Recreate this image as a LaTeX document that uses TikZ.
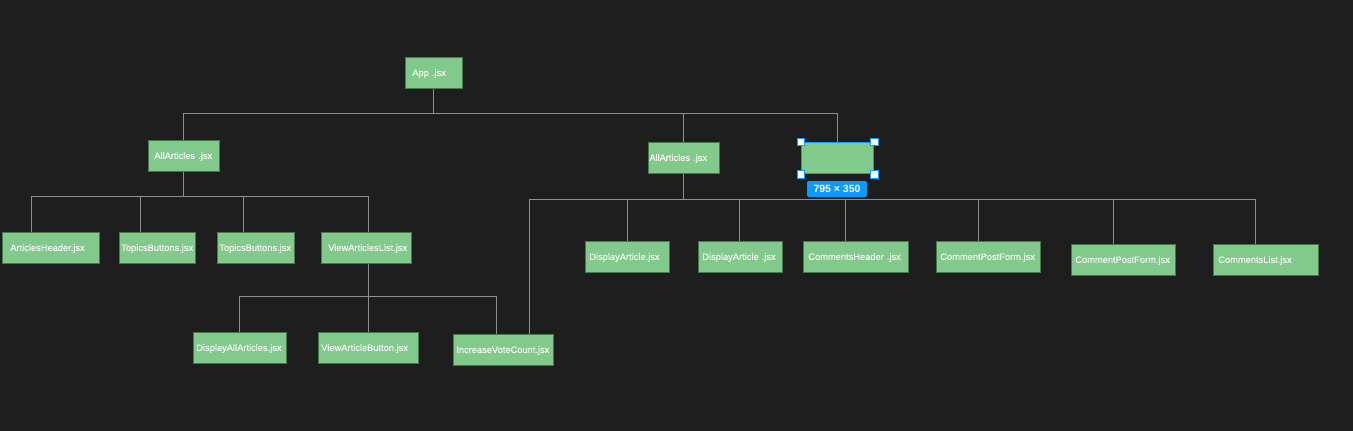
\documentclass[tikz,border=0pt]{standalone}
\usepackage{fontspec}
\setmainfont{Liberation Sans}
\newfontfamily\boxfont[FakeBold=0.35]{Liberation Sans}
\definecolor{bg}{HTML}{1E1E1E}
\definecolor{boxgreen}{HTML}{82CA8B}
\definecolor{boxedge}{HTML}{46794C}
\definecolor{wiregray}{HTML}{8E8E8E}
\definecolor{figblue}{HTML}{0D99FF}
\begin{document}
\begin{tikzpicture}[x=1pt,y=-1pt,
  wire/.style={draw=wiregray,line width=0.9pt},
  bx/.style 2 args={draw=boxedge,line width=0.6pt,fill=boxgreen,anchor=north west,
    align=left,minimum height=31pt,inner ysep=0pt,inner xsep=#1,text width=#2,
    text=white!96!black,font=\boxfont\fontsize{9.3}{11}\selectfont,text depth=0.5pt},
  handle/.style={draw=figblue,fill=white,line width=0.9pt,minimum size=7.5pt,inner sep=0pt}]
\fill[bg] (0,0) rectangle (1353,431);
\useasboundingbox (0,0) rectangle (1353,431);
% nodes
\node[bx={7pt}{43pt}] (app) at (405,57) {App .jsx};
\node[bx={6pt}{59pt}] (aaL) at (148,140) {AllArticles .jsx};
\node[bx={8pt}{81pt}] (ah) at (2,232) {ArticlesHeader.jsx};
\node[bx={2pt}{72pt}] (tb1) at (119,232) {TopicsButtons.jsx};
\node[bx={2pt}{73pt}] (tb2) at (217,232) {TopicsButtons.jsx};
\node[bx={7pt}{76pt}] (val) at (321,232) {ViewArticlesList.jsx};
\node[bx={3pt}{87pt}] (daa) at (193,332) {DisplayAllArticles.jsx};
\node[bx={3pt}{94pt}] (vab) at (318,332) {ViewArticleButton.jsx};
\node[bx={3pt}{94pt}] (ivc) at (453,334) {IncreaseVoteCount.jsx};
\node[bx={1pt}{69pt}] (aaR) at (648,142) {AllArticles .jsx};
\node[bx={0pt}{72pt},draw=figblue,line width=1.4pt] (sel) at (801,142) {};
\node[bx={4pt}{76pt}] (da1) at (585,241) {DisplayArticle.jsx};
\node[bx={4pt}{76pt}] (da2) at (698,241) {DisplayArticle .jsx};
\node[bx={5pt}{95pt}] (ch) at (803,241) {CommentsHeader .jsx};
\node[bx={4pt}{96pt}] (cpf1) at (936,241) {CommentPostForm.jsx};
\node[bx={4pt}{96pt}] (cpf2) at (1071,244) {CommentPostForm.jsx};
\node[bx={5pt}{95pt}] (cl) at (1213,244) {CommentsList.jsx};
% bus coordinates
\coordinate (b1) at (0,113);
\coordinate (b2) at (0,196);
\coordinate (b3) at (0,296);
\coordinate (b4) at (0,199);
\coordinate (ahT) at ([xshift=-19.5pt]ah.north);
\coordinate (tb1T) at ([xshift=-17pt]tb1.north);
\coordinate (tb2T) at ([xshift=-12.5pt]tb2.north);
\coordinate (valT) at ([xshift=2pt]val.north);
\coordinate (valB) at ([xshift=2pt]val.south);
\coordinate (ivcT) at ([xshift=-7pt]ivc.north);
\coordinate (ivcR) at ([xshift=26pt]ivc.north);
\coordinate (da2T) at ([xshift=-1pt]da2.north);
\coordinate (chT) at ([xshift=-10.5pt]ch.north);
\coordinate (cpf1T) at ([xshift=-10pt]cpf1.north);
\coordinate (cpf2T) at ([xshift=-10pt]cpf2.north);
\coordinate (clT) at ([xshift=-10.5pt]cl.north);
% top level
\draw[wire] (app.south) -- (app.south |- b1);
\draw[wire] (aaL.north) -- (aaL.north |- b1) -- (sel.north |- b1) -- (sel.north);
\draw[wire] (aaR.north) -- (aaR.north |- b1);
% left subtree
\draw[wire] (aaL.south) -- (aaL.south |- b2);
\draw[wire] (ahT) -- (ahT |- b2) -- (valT |- b2) -- (valT);
\draw[wire] (tb1T) -- (tb1T |- b2);
\draw[wire] (tb2T) -- (tb2T |- b2);
\draw[wire] (valB) -- (vab.north);
\draw[wire] (daa.north) -- (daa.north |- b3) -- (ivcT |- b3) -- (ivcT);
% right subtree
\draw[wire] (aaR.south) -- (aaR.south |- b4);
\draw[wire] (ivcR) -- (ivcR |- b4) -- (clT |- b4) -- (clT);
\draw[wire] (da1.north) -- (da1.north |- b4);
\draw[wire] (da2T) -- (da2T |- b4);
\draw[wire] (chT) -- (chT |- b4);
\draw[wire] (cpf1T) -- (cpf1T |- b4);
\draw[wire] (cpf2T) -- (cpf2T |- b4);
% selection decoration
\node[handle] (h1) at (sel.north west) {};
\node[handle] (h2) at (sel.north east) {};
\node[handle] (h3) at (sel.south west) {};
\node[handle] (h4) at (sel.south east) {};
\node[fill=figblue,rounded corners=2pt,text=white,minimum width=60pt,minimum height=16pt,
  inner sep=0pt,font=\bfseries\fontsize{10.5}{12}\selectfont] (dim) at (837,189) {795 × 350};
\end{tikzpicture}
\end{document}
